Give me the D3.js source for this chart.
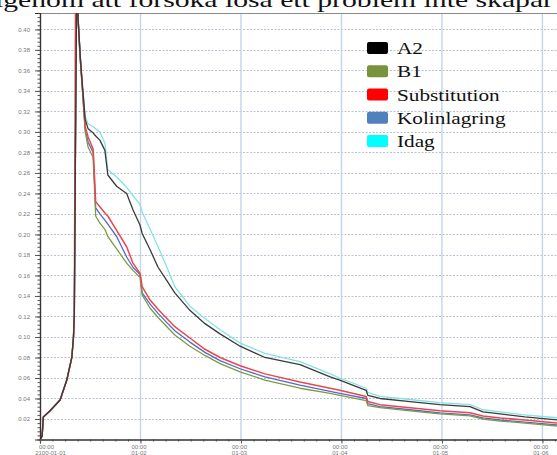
<!DOCTYPE html>
<html>
<head>
<meta charset="utf-8">
<script src="https://cdn.jsdelivr.net/npm/d3@7/dist/d3.min.js"></script>
<style>
  body { margin: 0; background: #fff; }
  svg { display: block; }
</style>
</head>
<body>
<div id="chart"></div>
<script>
// ── Données ───────────────────────────────────────────────────────
// heures depuis 2100-01-01 00:00
const hours = [0, 0.5, 0.8, 2.4, 4.8, 6.4, 7.6, 8.0, 8.2, 8.5,
  8.8, 9.1, 9.6, 10.0, 10.8, 11.5, 12.7, 13.3, 14.3, 15.5,
  16.2, 18.3, 20.7, 22.2, 23.9, 24.4, 26.3, 28.2, 30.3, 32.2,
  35.8, 39.4, 43.0, 47.8, 53.7, 62.1, 69.3, 71.6, 77.9, 78.3,
  81.2, 88.4, 95.5, 102.7, 105.8, 109.9, 115.8, 124];

const a2 = [0, 0.003, 0.022, 0.028, 0.0385, 0.058, 0.080, 0.100, 0.123, 0.30,
  0.46, 0.41, 0.375, 0.352, 0.312, 0.303, 0.299, 0.296, 0.292, 0.282,
  0.258, 0.247, 0.240, 0.224, 0.209, 0.201, 0.185, 0.168, 0.155, 0.143,
  0.126, 0.113, 0.103, 0.091, 0.080, 0.073, 0.061, 0.058, 0.048, 0.043,
  0.040, 0.037, 0.034, 0.032, 0.027, 0.025, 0.022, 0.019];

const b1 = [0, 0.003, 0.022, 0.028, 0.0385, 0.058, 0.080, 0.100, 0.123, 0.30,
  0.46, 0.41, 0.372, 0.35, 0.300, 0.285, 0.275, 0.218, 0.211, 0.205,
  0.198, 0.186, 0.172, 0.165, 0.158, 0.141, 0.128, 0.119, 0.110, 0.102,
  0.091, 0.082, 0.074, 0.066, 0.058, 0.050, 0.045, 0.043, 0.038, 0.033,
  0.031, 0.028, 0.025, 0.023, 0.020, 0.018, 0.016, 0.013];

const substitution = [0, 0.003, 0.022, 0.028, 0.0385, 0.058, 0.080, 0.100, 0.123, 0.45,
  0.46, 0.41, 0.372, 0.35, 0.305, 0.295, 0.283, 0.232, 0.227, 0.221,
  0.218, 0.204, 0.188, 0.172, 0.162, 0.149, 0.136, 0.127, 0.118, 0.110,
  0.099, 0.088, 0.080, 0.072, 0.064, 0.056, 0.050, 0.048, 0.042, 0.037,
  0.034, 0.031, 0.028, 0.026, 0.023, 0.021, 0.019, 0.016];

const kolinlagring = [0, 0.003, 0.022, 0.028, 0.0385, 0.058, 0.080, 0.100, 0.123, 0.30,
  0.46, 0.41, 0.372, 0.35, 0.302, 0.290, 0.280, 0.226, 0.220, 0.214,
  0.210, 0.198, 0.178, 0.168, 0.161, 0.143, 0.132, 0.123, 0.114, 0.106,
  0.095, 0.085, 0.077, 0.069, 0.061, 0.053, 0.047, 0.045, 0.040, 0.035,
  0.032, 0.029, 0.026, 0.024, 0.021, 0.019, 0.017, 0.014];

const idag = [0, 0.003, 0.022, 0.028, 0.0385, 0.058, 0.080, 0.100, 0.123, 0.30,
  0.46, 0.41, 0.375, 0.352, 0.315, 0.308, 0.305, 0.303, 0.300, 0.289,
  0.263, 0.256, 0.246, 0.238, 0.229, 0.222, 0.205, 0.188, 0.168, 0.149,
  0.130, 0.118, 0.107, 0.094, 0.084, 0.076, 0.064, 0.060, 0.050, 0.046,
  0.042, 0.039, 0.036, 0.034, 0.029, 0.027, 0.024, 0.021];

const seriesNames = ['A2', 'B1', 'Substitution', 'Kolinlagring', 'Idag'];
const seriesValues = [a2, b1, substitution, kolinlagring, idag];
const yTicks = [0.02, 0.04, 0.06, 0.08, 0.10, 0.12, 0.14, 0.16, 0.18, 0.20,
  0.22, 0.24, 0.26, 0.28, 0.30, 0.32, 0.34, 0.36, 0.38, 0.40];

// ── Styles ────────────────────────────────────────────────────────
const SWATCH = { A2: '#000000', B1: '#77933c', Substitution: '#ff0000', Kolinlagring: '#4f81bd', Idag: '#00ffff' };
const STROKE = { A2: '#3a3a3a', B1: '#7a9c44', Substitution: '#e8474f', Kolinlagring: '#5868c4', Idag: '#86e2e2' };
const DRAW_ORDER = ['Idag', 'Kolinlagring', 'B1', 'Substitution', 'A2'];

const W = 557, H = 455;
const T0 = Date.UTC(2100, 0, 1);
const toDate = h => new Date(T0 + h * 3600e3);

const svg = d3.select('#chart').append('svg')
  .attr('width', W).attr('height', H)
  .attr('viewBox', `0 0 ${W} ${H}`);

// ligne de texte coupée en haut (document source)
svg.append('text')
  .attr('x', -5).attr('y', 7)
  .attr('font-family', '"Liberation Serif", "Times New Roman", serif')
  .attr('font-size', 22)
  .attr('fill', '#111')
  .attr('textLength', 558).attr('lengthAdjust', 'spacingAndGlyphs')
  .text('igenom att försöka lösa ett problem inte skapar');

const x = d3.scaleUtc().domain([toDate(0), toDate(124.2)]).range([40, 560]);
const y = d3.scaleLinear().domain([0, 0.416]).range([439.5, 13]);

// grille horizontale pointillée
svg.append('g').selectAll('line').data(yTicks).join('line')
  .attr('x1', 40).attr('x2', W)
  .attr('y1', d => Math.round(y(d)) + 0.5).attr('y2', d => Math.round(y(d)) + 0.5)
  .attr('stroke', '#b9c3cf').attr('stroke-width', 1)
  .attr('stroke-dasharray', '2,1.5');

// grille verticale (jours)
const days = x.ticks(d3.utcDay.every(1));
svg.append('g').selectAll('line').data(days.slice(1)).join('line')
  .attr('x1', d => x(d)).attr('x2', d => x(d))
  .attr('y1', 13).attr('y2', 440)
  .attr('stroke', '#c4d4e8').attr('stroke-width', 1.4);

// cadre haut
svg.append('line')
  .attr('x1', 38).attr('x2', W).attr('y1', 13.5).attr('y2', 13.5)
  .attr('stroke', '#8a8a8a').attr('stroke-width', 1);

// courbes
svg.append('clipPath').attr('id', 'plot-clip')
  .append('rect').attr('x', 40).attr('y', 13).attr('width', W - 40).attr('height', 430);

const line = d3.line()
  .x(d => x(toDate(d[0])))
  .y(d => y(d[1]));

const lines = svg.append('g').attr('clip-path', 'url(#plot-clip)');
DRAW_ORDER.forEach(name => {
  const vals = seriesValues[seriesNames.indexOf(name)];
  lines.append('path')
    .datum(hours.map((h, i) => [h, vals[i]]))
    .attr('fill', 'none')
    .attr('stroke', STROKE[name])
    .attr('stroke-width', name === 'Substitution' ? 1.5 : 1.3)
    .attr('stroke-linejoin', 'round')
    .attr('d', line);
});

// axe Y
const yAxis = svg.append('g').attr('transform', 'translate(40,0)');
yAxis.call(d3.axisLeft(y).tickValues(d3.range(1, 104).map(i => i * 0.004)).tickSize(2.5).tickFormat(''));
yAxis.append('g').call(d3.axisLeft(y).tickValues(yTicks).tickSize(5).tickPadding(5).tickFormat(d3.format('.2f')));
yAxis.selectAll('.domain').attr('stroke', '#333').attr('stroke-width', 1.2);
yAxis.selectAll('.tick line').attr('stroke', '#555');
yAxis.selectAll('.tick text')
  .attr('font-family', 'Arial, "Liberation Sans", sans-serif')
  .attr('font-size', 6).attr('fill', '#777');

// axe X
const xAxis = svg.append('g').attr('transform', `translate(0,${y(0)})`);
xAxis.call(d3.axisBottom(x).ticks(d3.utcHour.every(3)).tickSize(2).tickFormat(''));
const xMajor = xAxis.append('g')
  .call(d3.axisBottom(x).ticks(d3.utcDay.every(1)).tickSize(4).tickPadding(2).tickFormat(() => ''));
xAxis.selectAll('.domain').attr('stroke', '#333').attr('stroke-width', 1.2);
xAxis.selectAll('.tick line').attr('stroke', '#555');

const fmtDay = d3.utcFormat('%m-%d');
const fmtFull = d3.utcFormat('%Y-%m-%d');
xMajor.selectAll('.tick text').each(function(d, i) {
  const t = d3.select(this)
    .attr('font-family', 'Arial, "Liberation Sans", sans-serif')
    .attr('font-size', 6).attr('fill', '#777')
    .attr('x', i === 0 ? 7 : -2);
  t.append('tspan').attr('x', i === 0 ? 6 : -2).attr('dy', '0.55em').text(d3.utcFormat('%H:%M')(d));
  t.append('tspan').attr('x', i === 0 ? 10 : -2).attr('dy', '1.05em').text(i === 0 ? fmtFull(d) : fmtDay(d));
});

// légende
const legY = d3.scalePoint().domain(seriesNames).range([42, 135]);
const leg = svg.append('g');
seriesNames.forEach(name => {
  leg.append('rect')
    .attr('x', 367).attr('y', legY(name))
    .attr('width', 21).attr('height', 12).attr('rx', 2)
    .attr('fill', SWATCH[name]);
  leg.append('text')
    .attr('transform', `translate(397,${legY(name) + 12}) scale(1.25,1)`)
    .attr('font-family', '"Liberation Serif", "Times New Roman", serif')
    .attr('font-size', 17).attr('fill', '#111')
    .text(name);
});
</script>
</body>
</html>
